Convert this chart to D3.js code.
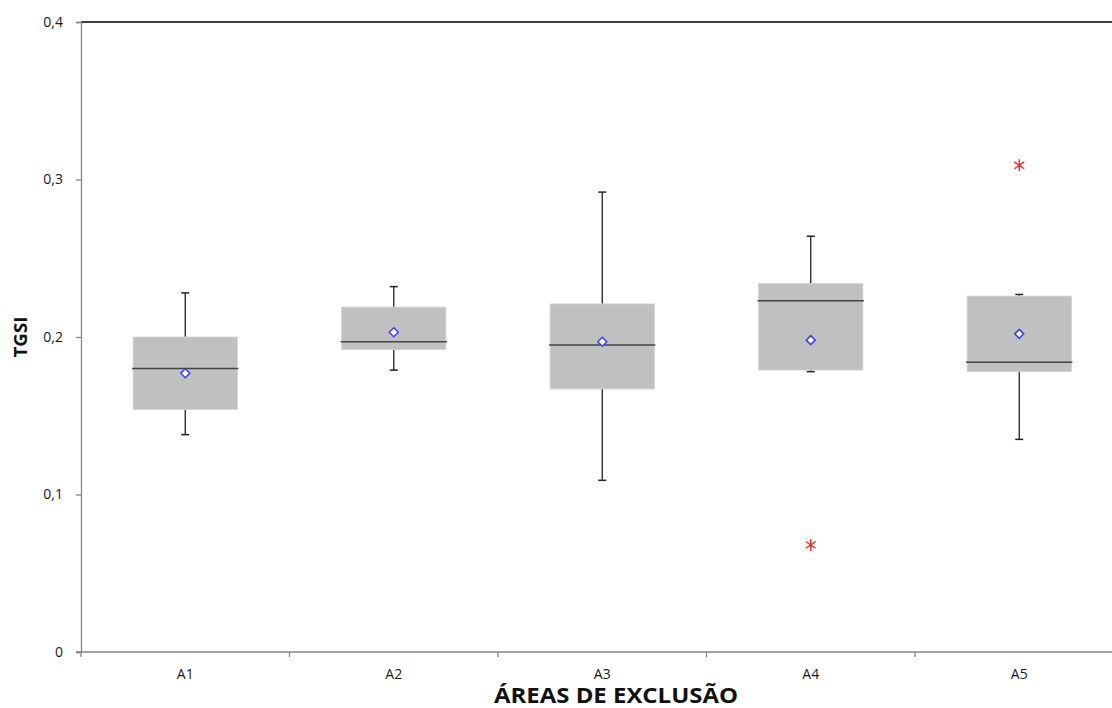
<!DOCTYPE html>
<html>
<head>
<meta charset="utf-8">
<script src="https://cdn.jsdelivr.net/npm/d3@7/dist/d3.min.js"></script>
<style>
  html, body { margin: 0; padding: 0; background: #fff; }
  svg { display: block; }
  text { font-family: "Open Sans", "Liberation Sans", sans-serif; }
</style>
</head>
<body>
<svg id="chart" width="1112" height="708"></svg>
<script>
// ---- data ----
const categories = ["A1", "A2", "A3", "A4", "A5"];
const whiskerLow  = [0.138, 0.179, 0.109, 0.178, 0.135];
const q1          = [0.154, 0.192, 0.167, 0.179, 0.178];
const median      = [0.180, 0.197, 0.195, 0.223, 0.184];
const q3          = [0.200, 0.219, 0.221, 0.234, 0.226];
const whiskerHigh = [0.228, 0.232, 0.292, 0.264, 0.227];
const means       = [0.177, 0.203, 0.197, 0.198, 0.202];
const outliers    = [{cat: "A4", value: 0.068}, {cat: "A5", value: 0.309}];
const yTicks      = [0, 0.1, 0.2, 0.3, 0.4];
const yTitle = "TGSI";
const xTitle = "ÁREAS DE EXCLUSÃO";

// ---- layout ----
const svg = d3.select("#chart");
const mLeft = 81, mTop = 22, mBottom = 652, mRight = 1123.5;

const x = d3.scaleBand().domain(categories).range([mLeft, mRight]).paddingInner(0).paddingOuter(0);
const y = d3.scaleLinear().domain([0, 0.4]).range([mBottom, mTop]);
const bw = x.bandwidth() * 0.5;
const cx = c => x(c) + x.bandwidth() / 2;

const data = categories.map((c, i) => ({
  c, lo: whiskerLow[i], q1: q1[i], med: median[i], q3: q3[i], hi: whiskerHigh[i], mean: means[i]
}));

// top border
svg.append("line").attr("x1", mLeft).attr("x2", 1112).attr("y1", mTop).attr("y2", mTop)
  .attr("stroke", "#000").attr("stroke-width", 1.6);

// whiskers
const g = svg.append("g");
data.forEach(d => {
  const xc = cx(d.c);
  [[d.q3, d.hi], [d.q1, d.lo]].forEach(([a, b]) => {
    g.append("line").attr("x1", xc).attr("x2", xc).attr("y1", y(a)).attr("y2", y(b))
      .attr("stroke", "#222").attr("stroke-width", 1.3);
    g.append("line").attr("x1", xc - 4).attr("x2", xc + 4).attr("y1", y(b)).attr("y2", y(b))
      .attr("stroke", "#222").attr("stroke-width", 1.5);
  });
});

// boxes
data.forEach(d => {
  const xc = cx(d.c);
  g.append("rect").attr("x", xc - bw / 2).attr("width", bw)
    .attr("y", y(d.q3)).attr("height", y(d.q1) - y(d.q3))
    .attr("fill", "#c0c0c0").attr("stroke", "#d4d4d4").attr("stroke-width", 0.8);
  g.append("line").attr("x1", xc - bw / 2 - 1).attr("x2", xc + bw / 2 + 1)
    .attr("y1", y(d.med)).attr("y2", y(d.med))
    .attr("stroke", "#444").attr("stroke-width", 1.5);
});

// means (diamonds)
data.forEach(d => {
  const xc = cx(d.c), yc = y(d.mean), r = 4.5;
  g.append("path")
    .attr("d", `M${xc},${yc - r}L${xc + r},${yc}L${xc},${yc + r}L${xc - r},${yc}Z`)
    .attr("fill", "#fff").attr("stroke", "#3b3bff").attr("stroke-width", 1.5);
});

// outliers (asterisks)
outliers.forEach(o => {
  const xc = cx(o.cat), yc = y(o.value), r = 6;
  let p = "";
  [90, 35, 145].forEach(a => {
    const rad = a * Math.PI / 180;
    const dx = r * Math.cos(rad), dy = r * Math.sin(rad);
    p += `M${xc - dx},${yc - dy}L${xc + dx},${yc + dy}`;
  });
  g.append("path").attr("d", p).attr("stroke", "#ff2020").attr("stroke-width", 1.3).attr("fill", "none");
});

// y axis
const yAxis = svg.append("g").attr("transform", `translate(${mLeft},0)`)
  .call(d3.axisLeft(y).tickValues(yTicks).tickSize(5).tickPadding(13)
    .tickFormat(v => v === 0 ? "0" : d3.format(".1f")(v).replace(".", ",")));
yAxis.select(".domain").attr("stroke", "#868686").attr("stroke-width", 1.3);
yAxis.selectAll(".tick line").attr("stroke", "#868686").attr("stroke-width", 1.3);
yAxis.selectAll(".tick text").attr("fill", "#1a1a1a").style("font-size", "14px");

// x axis
const xAxis = svg.append("g").attr("transform", `translate(0,${mBottom})`)
  .call(d3.axisBottom(x).tickSize(0).tickPadding(17));
xAxis.select(".domain").attr("d", `M${mLeft - 5},0H${1112}`).attr("stroke", "#868686").attr("stroke-width", 1.3);
xAxis.selectAll(".tick text").attr("fill", "#1a1a1a").style("font-size", "14px");
// boundary ticks between categories
const bounds = categories.map(c => x(c));
xAxis.selectAll("line.bt").data(bounds).enter().append("line").attr("class", "bt")
  .attr("x1", d => d).attr("x2", d => d).attr("y1", 0).attr("y2", 5)
  .attr("stroke", "#868686").attr("stroke-width", 1.3);

// titles
svg.append("text").attr("x", 616).attr("y", 703).attr("text-anchor", "middle")
  .style("font-size", "21px").style("font-weight", "bold").attr("fill", "#111")
  .attr("textLength", 244).attr("lengthAdjust", "spacingAndGlyphs")
  .text(xTitle);
svg.append("text").attr("transform", "translate(27,337) rotate(-90)").attr("text-anchor", "middle")
  .style("font-size", "17px").style("font-weight", "bold").attr("fill", "#111")
  .attr("textLength", 41).attr("lengthAdjust", "spacingAndGlyphs")
  .text(yTitle);
</script>
</body>
</html>
